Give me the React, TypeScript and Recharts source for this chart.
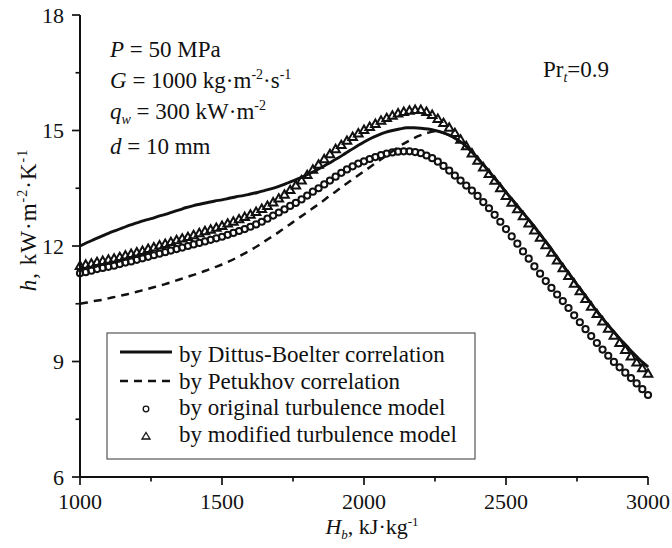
import React from 'react';
import { LineChart, Line, XAxis, YAxis } from 'recharts';

// bulk enthalpy for the two correlation curves, kJ/kg
const enthalpy = [
  1000, 1025, 1050, 1075, 1100, 1125, 1150, 1175, 1200, 1225, 1250, 1275, 1300, 1325, 1350, 1375,
  1400, 1425, 1450, 1475, 1500, 1525, 1550, 1575, 1600, 1625, 1650, 1675, 1700, 1725, 1750, 1775,
  1800, 1825, 1850, 1875, 1900, 1925, 1950, 1975, 2000, 2025, 2050, 2075, 2100, 2125, 2150, 2175,
  2200, 2225, 2250, 2275, 2300, 2325, 2350, 2375, 2400, 2425, 2450, 2475, 2500, 2525, 2550, 2575,
  2600, 2625, 2650, 2675, 2700, 2725, 2750, 2775, 2800, 2825, 2850, 2875, 2900, 2925, 2950, 2975,
  3000,
];

// heat transfer coefficient, kW/(m2 K)
const dittusBoelter = [
  12.0, 12.09, 12.17, 12.25, 12.33, 12.4, 12.47, 12.54, 12.6, 12.66, 12.71, 12.77, 12.82, 12.88, 12.94, 13.0,
  13.05, 13.09, 13.13, 13.17, 13.2, 13.24, 13.28, 13.31, 13.35, 13.39, 13.44, 13.49, 13.55, 13.62, 13.69, 13.77,
  13.85, 13.94, 14.04, 14.14, 14.25, 14.36, 14.48, 14.59, 14.7, 14.8, 14.88, 14.95, 15.0, 15.04, 15.07, 15.07,
  15.06, 15.04, 15.0, 14.95, 14.88, 14.78, 14.65, 14.48, 14.28, 14.07, 13.85, 13.63, 13.4, 13.18, 12.95, 12.73,
  12.5, 12.26, 12.02, 11.76, 11.5, 11.25, 11.0, 10.75, 10.5, 10.26, 10.03, 9.81, 9.6, 9.4, 9.2, 9.02,
  8.86,
];

const petukhov = [
  10.5, 10.53, 10.57, 10.6, 10.64, 10.68, 10.72, 10.76, 10.81, 10.86, 10.91, 10.96, 11.01, 11.07, 11.13, 11.19,
  11.25, 11.31, 11.38, 11.45, 11.52, 11.6, 11.69, 11.79, 11.89, 12.0, 12.12, 12.24, 12.36, 12.49, 12.62, 12.75,
  12.88, 13.01, 13.14, 13.28, 13.41, 13.55, 13.68, 13.81, 13.94, 14.07, 14.2, 14.33, 14.46, 14.59, 14.7, 14.8,
  14.88, 14.94, 14.98, 14.95, 14.88, 14.78, 14.65, 14.48, 14.28, 14.07, 13.85, 13.63, 13.4, 13.18, 12.95, 12.73,
  12.5, 12.26, 12.02, 11.76, 11.5, 11.25, 11.0, 10.75, 10.5, 10.26, 10.03, 9.81, 9.6, 9.4, 9.2, 9.02,
  8.86,
];

// enthalpy of the simulated points (markers), kJ/kg
const modelH = [
  1000, 1020, 1040, 1060, 1080, 1100, 1120, 1140, 1160, 1180,
  1200, 1220, 1240, 1260, 1280, 1300, 1320, 1340, 1360, 1380,
  1400, 1420, 1440, 1460, 1480, 1500, 1520, 1540, 1560, 1580,
  1600, 1620, 1640, 1660, 1680, 1700, 1720, 1740, 1760, 1780,
  1800, 1820, 1840, 1860, 1880, 1900, 1920, 1940, 1960, 1980,
  2000, 2020, 2040, 2060, 2080, 2100, 2120, 2140, 2160, 2180,
  2200, 2220, 2240, 2260, 2280, 2300, 2320, 2340, 2360, 2380,
  2400, 2420, 2440, 2460, 2480, 2500, 2520, 2540, 2560, 2580,
  2600, 2620, 2640, 2660, 2680, 2700, 2720, 2740, 2760, 2780,
  2800, 2820, 2840, 2860, 2880, 2900, 2920, 2940, 2960, 2980,
  3000,
];

const originalModel = [
  11.29, 11.32, 11.36, 11.4, 11.43, 11.46, 11.49, 11.53, 11.57, 11.6,
  11.64, 11.68, 11.72, 11.76, 11.8, 11.84, 11.88, 11.92, 11.96, 12.0,
  12.04, 12.08, 12.12, 12.16, 12.2, 12.24, 12.29, 12.34, 12.39, 12.44,
  12.5, 12.56, 12.63, 12.71, 12.79, 12.87, 12.95, 13.04, 13.12, 13.21,
  13.31, 13.41, 13.5, 13.6, 13.7, 13.8, 13.9, 13.99, 14.07, 14.14,
  14.2, 14.26, 14.31, 14.36, 14.4, 14.43, 14.45, 14.46, 14.46, 14.44,
  14.41, 14.35, 14.28, 14.19, 14.08, 13.96, 13.83, 13.7, 13.57, 13.44,
  13.3, 13.14, 12.98, 12.81, 12.63, 12.44, 12.25, 12.06, 11.86, 11.67,
  11.47, 11.28, 11.09, 10.91, 10.74, 10.57, 10.39, 10.2, 10.02, 9.84,
  9.66, 9.48, 9.31, 9.15, 8.99, 8.85, 8.71, 8.57, 8.43, 8.28,
  8.13,
];

const modifiedModel = [
  11.48, 11.51, 11.54, 11.58, 11.61, 11.64, 11.67, 11.71, 11.75, 11.79,
  11.83, 11.87, 11.92, 11.96, 12.01, 12.05, 12.1, 12.15, 12.19, 12.23,
  12.28, 12.33, 12.38, 12.42, 12.47, 12.52, 12.58, 12.63, 12.69, 12.75,
  12.81, 12.88, 12.96, 13.04, 13.13, 13.23, 13.33, 13.45, 13.57, 13.7,
  13.84, 13.98, 14.11, 14.25, 14.38, 14.51, 14.62, 14.73, 14.83, 14.92,
  15.01, 15.09, 15.17, 15.25, 15.32, 15.38, 15.44, 15.48, 15.51, 15.53,
  15.53, 15.48, 15.4, 15.3, 15.19, 15.07, 14.93, 14.76, 14.59, 14.4,
  14.21, 14.04, 13.87, 13.69, 13.5, 13.3, 13.12, 12.95, 12.77, 12.58,
  12.4, 12.21, 12.02, 11.82, 11.62, 11.42, 11.22, 11.02, 10.82, 10.62,
  10.42, 10.23, 10.04, 9.85, 9.67, 9.48, 9.3, 9.13, 8.97, 8.82,
  8.68,
];

const xTicks = [1000, 1250, 1500, 1750, 2000, 2250, 2500, 2750, 3000];
const yTicks = [6, 7.5, 9, 10.5, 12, 13.5, 15, 16.5, 18];

const corrData = enthalpy.map((H, i) => ({ H, db: dittusBoelter[i], pe: petukhov[i] }));
const origData = modelH.map((H, i) => ({ H, v: originalModel[i] }));
const modData = modelH.map((H, i) => ({ H, v: modifiedModel[i] }));

const FONT = "'Liberation Serif', 'Times New Roman', serif";
const INK = '#111';

const XTick = (props: any) => {
  const { x, y, payload } = props;
  const major = payload.value % 500 === 0;
  return (
    <g>
      <line x1={x} y1={y} x2={x} y2={y + (major ? 8 : 4.5)} stroke={INK} strokeWidth={1.7} />
      {major && (
        <text x={x} y={y + 32} textAnchor="middle" fontFamily={FONT} fontSize={22} fill={INK}>
          {payload.value}
        </text>
      )}
    </g>
  );
};

const YTick = (props: any) => {
  const { x, y, payload } = props;
  const major = payload.value % 3 === 0;
  return (
    <g>
      <line x1={x} y1={y} x2={x - (major ? 8 : 4.5)} y2={y} stroke={INK} strokeWidth={1.7} />
      {major && (
        <text x={x - 16} y={y + 7.5} textAnchor="end" fontFamily={FONT} fontSize={22} fill={INK}>
          {payload.value}
        </text>
      )}
    </g>
  );
};

const Triangle = (props: any) => {
  const { cx, cy, index } = props;
  if (cx == null || cy == null) return null;
  const s = 4.5;
  return (
    <path
      key={`tri-${index}`}
      d={`M${cx},${cy - s} L${cx + s * 0.95},${cy + s * 0.65} L${cx - s * 0.95},${cy + s * 0.65} Z`}
      fill="none"
      stroke={INK}
      strokeWidth={2}
      strokeLinejoin="miter"
    />
  );
};

export default function App() {
  return (
    <div style={{ position: 'absolute', left: 0, top: 0, width: 672, height: 548, background: '#fff' }}>
      <LineChart width={672} height={548} margin={{ top: 15, right: 24, left: 0, bottom: 0 }}>
        <XAxis
          dataKey="H"
          type="number"
          domain={[1000, 3000]}
          ticks={xTicks}
          interval={0}
          height={71}
          tickSize={0}
          tickMargin={0}
          tickLine={false}
          tick={(p: any) => <XTick {...p} />}
          axisLine={{ stroke: INK, strokeWidth: 2 }}
          allowDuplicatedCategory={false}
        />
        <XAxis
          xAxisId="top"
          orientation="top"
          dataKey="H"
          type="number"
          domain={[1000, 3000]}
          height={0}
          tick={false}
          tickLine={false}
          axisLine={{ stroke: '#222', strokeWidth: 1.6 }}
        />
        <YAxis
          type="number"
          domain={[6, 18]}
          ticks={yTicks}
          interval={0}
          width={80}
          tickSize={0}
          tickMargin={0}
          tickLine={false}
          tick={(p: any) => <YTick {...p} />}
          axisLine={{ stroke: INK, strokeWidth: 2 }}
        />
        <YAxis
          yAxisId="right"
          orientation="right"
          type="number"
          domain={[6, 18]}
          width={0}
          tick={false}
          tickLine={false}
          axisLine={{ stroke: '#222', strokeWidth: 1.6 }}
        />
        <Line
          data={origData}
          dataKey="v"
          name="original"
          type="monotone"
          stroke="none"
          dot={{ r: 3.1, fill: 'none', stroke: INK, strokeWidth: 2 }}
          activeDot={false}
          isAnimationActive={false}
        />
        <Line
          data={modData}
          dataKey="v"
          name="modified"
          type="monotone"
          stroke="none"
          dot={(p: any) => <Triangle {...p} />}
          activeDot={false}
          isAnimationActive={false}
        />
        <Line
          data={corrData}
          dataKey="pe"
          type="monotone"
          stroke={INK}
          strokeWidth={2.5}
          strokeDasharray="8 6"
          dot={false}
          activeDot={false}
          isAnimationActive={false}
        />
        <Line
          data={corrData}
          dataKey="db"
          type="monotone"
          stroke={INK}
          strokeWidth={2.9}
          dot={false}
          activeDot={false}
          isAnimationActive={false}
        />
      </LineChart>

      <svg
        width={672}
        height={548}
        style={{ position: 'absolute', left: 0, top: 0, pointerEvents: 'none' }}
        fontFamily={FONT}
        fill={INK}
      >
        <g fontSize={23}>
          <text x={110} y={57}>
            <tspan fontStyle="italic">P</tspan> = 50 MPa
          </text>
          <text x={110} y={88}>
            <tspan fontStyle="italic">G</tspan> = 1000 kg·m
            <tspan dy={-9} fontSize={14}>-2</tspan>
            <tspan dy={9}>·s</tspan>
            <tspan dy={-9} fontSize={14}>-1</tspan>
          </text>
          <text x={110} y={119}>
            <tspan fontStyle="italic">q</tspan>
            <tspan dy={5} fontSize={14} fontStyle="italic">w</tspan>
            <tspan dy={-5}> = 300 kW·m</tspan>
            <tspan dy={-9} fontSize={14}>-2</tspan>
          </text>
          <text x={110} y={154}>
            <tspan fontStyle="italic">d</tspan> = 10 mm
          </text>
          <text x={543} y={77}>
            Pr<tspan dy={5} fontSize={14} fontStyle="italic">t</tspan>
            <tspan dy={-5}>=0.9</tspan>
          </text>

          {/* axis titles */}
          <text x={36} y={220} transform="rotate(-90 36 220)" textAnchor="middle" letterSpacing={1}>
            <tspan fontStyle="italic">h</tspan>, kW·m
            <tspan dy={-9} fontSize={14}>-2</tspan>
            <tspan dy={9}>·K</tspan>
            <tspan dy={-9} fontSize={14}>-1</tspan>
          </text>
        </g>
        <text x={372} y={534} textAnchor="middle" fontSize={22}>
          <tspan fontStyle="italic">H</tspan>
          <tspan dy={5} fontSize={13} fontStyle="italic">b</tspan>
          <tspan dy={-5}>, kJ·kg</tspan>
          <tspan dy={-8} fontSize={13}>-1</tspan>
        </text>

        {/* legend */}
        <rect x={107} y={333} width={368} height={126} fill="#fff" stroke="#555" strokeWidth={1.2} />
        <line x1={120} y1={352} x2={172} y2={352} stroke={INK} strokeWidth={3} />
        <line x1={120} y1={381} x2={172} y2={381} stroke={INK} strokeWidth={2.6} strokeDasharray="8 6" />
        <circle cx={146} cy={409} r={2.8} fill="none" stroke={INK} strokeWidth={1.3} />
        <path d="M146,432.5 L150,439 L142,439 Z" fill="none" stroke={INK} strokeWidth={1.3} />
        <g fontSize={23}>
          <text x={179} y={361.5}>by Dittus-Boelter correlation</text>
          <text x={179} y={388.5}>by Petukhov correlation</text>
          <text x={179} y={414.5}>by original turbulence model</text>
          <text x={179} y={441.5}>by modified turbulence model</text>
        </g>
      </svg>
    </div>
  );
}
